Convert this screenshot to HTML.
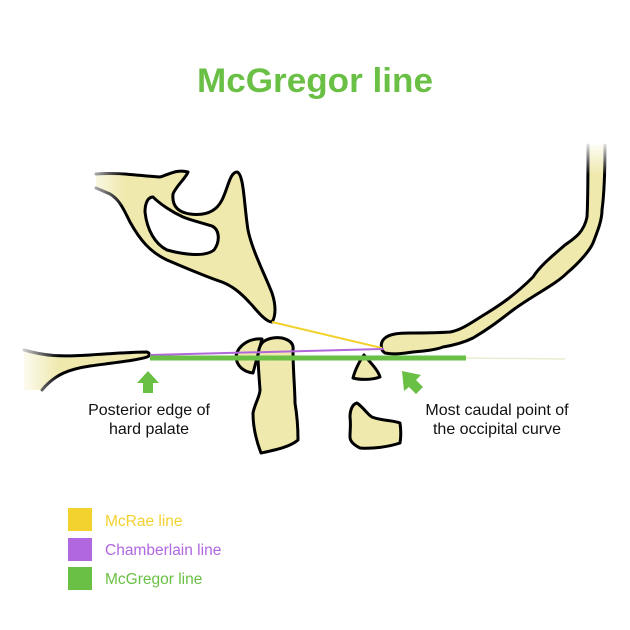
<!DOCTYPE html>
<html><head><meta charset="utf-8"><style>
html,body{margin:0;padding:0;background:#fff;}
svg{display:block;}
text{font-family:"Liberation Sans",Arial,sans-serif;}
</style></head><body>
<svg width="630" height="630" viewBox="0 0 630 630" xmlns="http://www.w3.org/2000/svg">
<defs>
<linearGradient id="fl" x1="0" x2="1" y1="0" y2="0">
<stop offset="0" stop-color="#fff" stop-opacity="1"/><stop offset="1" stop-color="#fff" stop-opacity="0"/>
</linearGradient>
<linearGradient id="ft" x1="0" x2="0" y1="0" y2="1">
<stop offset="0" stop-color="#fff" stop-opacity="1"/><stop offset="1" stop-color="#fff" stop-opacity="0"/>
</linearGradient>
</defs>
<rect width="630" height="630" fill="#fff"/>
<text x="315" y="92" text-anchor="middle" font-size="34" font-weight="bold" fill="#6abf45" textLength="236" lengthAdjust="spacingAndGlyphs">McGregor line</text>

<g fill="#efe9ad" stroke="none">
<path d="M96,174 C120,172 140,176 160,177 C170,174 177,169 188,172 C186,178 176,186 173,194 C172,204 176,212 190,214 C205,216 216,212 222,200 C228,188 230,172 237,172 C244,174 244,205 248,230 C252,250 265,275 272,293 C276,305 276,316 272,322 C265,322 255,308 250,303 C240,292 232,286 222,282 C210,278 195,272 167,260 C150,252 140,240 130,222 C124,210 120,200 110,194 L96,188 Z"/>
<path d="M24,350 C45,356 60,357 90,355 C120,353 135,352 147,352 C150,353 150,356 147,357 C138,360 120,362 90,366 C70,369 55,374 42,390 L24,390 Z"/>
<path d="M588,145 C588,170 588,200 587,217 C584,232 575,238 565,245 C550,258 540,266 533,277 C515,295 500,305 487,313 C472,322 462,330 450,332 C435,333 420,333 410,333 C398,333 390,334 385,338 C380,342 380,350 385,353 C395,355 405,353 413,352 C425,351 435,350 443,347 C455,345 465,342 473,338 C490,328 500,320 513,310 C535,294 555,285 567,273 C580,262 590,250 593,243 C598,230 602,220 602,210 C604,195 605,175 605,145 Z"/>
</g>
<g fill="none" stroke="#000" stroke-width="3" stroke-linejoin="round" stroke-linecap="round">
<path d="M96,174 C120,172 140,176 160,177 C170,174 177,169 188,172 C186,178 176,186 173,194 C172,204 176,212 190,214 C205,216 216,212 222,200 C228,188 230,172 237,172 C244,174 244,205 248,230 C252,250 265,275 272,293 C276,305 276,316 272,322 C265,322 255,308 250,303 C240,292 232,286 222,282 C210,278 195,272 167,260 C150,252 140,240 130,222 C124,210 120,200 110,194 L96,188"/>
<path d="M24,350 C45,356 60,357 90,355 C120,353 135,352 147,352 C150,353 150,356 147,357 C138,360 120,362 90,366 C70,369 55,374 42,390"/>
<path d="M588,145 C588,170 588,200 587,217 C584,232 575,238 565,245 C550,258 540,266 533,277 C515,295 500,305 487,313 C472,322 462,330 450,332 C435,333 420,333 410,333 C398,333 390,334 385,338 C380,342 380,350 385,353 C395,355 405,353 413,352 C425,351 435,350 443,347 C455,345 465,342 473,338 C490,328 500,320 513,310 C535,294 555,285 567,273 C580,262 590,250 593,243 C598,230 602,220 602,210 C604,195 605,175 605,145"/>
</g>
<!-- hole -->
<path d="M153,197 C160,204 172,212 183,217 C193,221 203,223 212,226 C220,230 220,242 214,250 C205,257 185,255 167,250 C155,244 147,230 145,212 C145,203 148,197 153,197 Z" fill="#fff" stroke="#000" stroke-width="3" stroke-linejoin="round"/>

<g fill="#efe9ad" stroke="#000" stroke-width="3" stroke-linejoin="round">
<path d="M262,339 C250,338 238,345 236,356 C236,366 244,372 253,373 Z"/>
<path d="M263,342 C268,338 276,337 282,338 C290,340 294,344 293,350 C293,370 295,390 295,403 C297,415 298,430 298,440 C290,447 275,450 261,453 C256,440 253,425 253,413 C255,403 260,396 260,390 C259,375 258,365 258,355 C259,348 260,345 263,342 Z"/>
<path d="M364,355 C370,362 378,370 380,377 C372,380 360,380 353,378 C355,370 360,360 364,355 Z"/>
<path d="M357,403 C364,408 368,415 372,417 C382,421 392,420 400,423 C401,430 401,437 400,443 C388,447 372,449 360,448 C354,445 350,441 350,437 C350,430 351,424 350,417 C350,411 352,404 357,403 Z"/>
</g>
<!-- fades -->
<rect x="80" y="160" width="45" height="45" fill="url(#fl)"/>
<rect x="15" y="340" width="45" height="60" fill="url(#fl)"/>
<rect x="578" y="140" width="35" height="35" fill="url(#ft)"/>

<line x1="272" y1="322" x2="382" y2="348" stroke="#f2d22e" stroke-width="2"/>
<line x1="150" y1="355" x2="384" y2="349" stroke="#b067d9" stroke-width="2"/>
<line x1="465" y1="358" x2="565" y2="359" stroke="#e6eecf" stroke-width="1.5"/>
<line x1="150" y1="358" x2="466" y2="358" stroke="#6abf45" stroke-width="5"/>

<path d="M148,371 L159,383 L153,383 L153,393 L143,393 L143,383 L137,383 Z" fill="#6abf45"/>
<path d="M402,371 L421,375 L416,380 L423,387 L416,394 L409,387 L404,391 Z" fill="#6abf45"/>

<g font-size="16" fill="#111" text-anchor="middle">
<text x="149" y="415">Posterior edge of</text>
<text x="149" y="434">hard palate</text>
<text x="497" y="415">Most caudal point of</text>
<text x="497" y="434">the occipital curve</text>
</g>

<rect x="68" y="508" width="24" height="23" fill="#f3d12f"/>
<rect x="68" y="538" width="24" height="23" fill="#b067e0"/>
<rect x="68" y="567" width="24" height="23" fill="#6abf45"/>
<g font-size="15.5">
<text x="105" y="526" fill="#f3d12f">McRae line</text>
<text x="105" y="555" fill="#b067e0">Chamberlain line</text>
<text x="105" y="584" fill="#6abf45">McGregor line</text>
</g>
</svg>
</body></html>
